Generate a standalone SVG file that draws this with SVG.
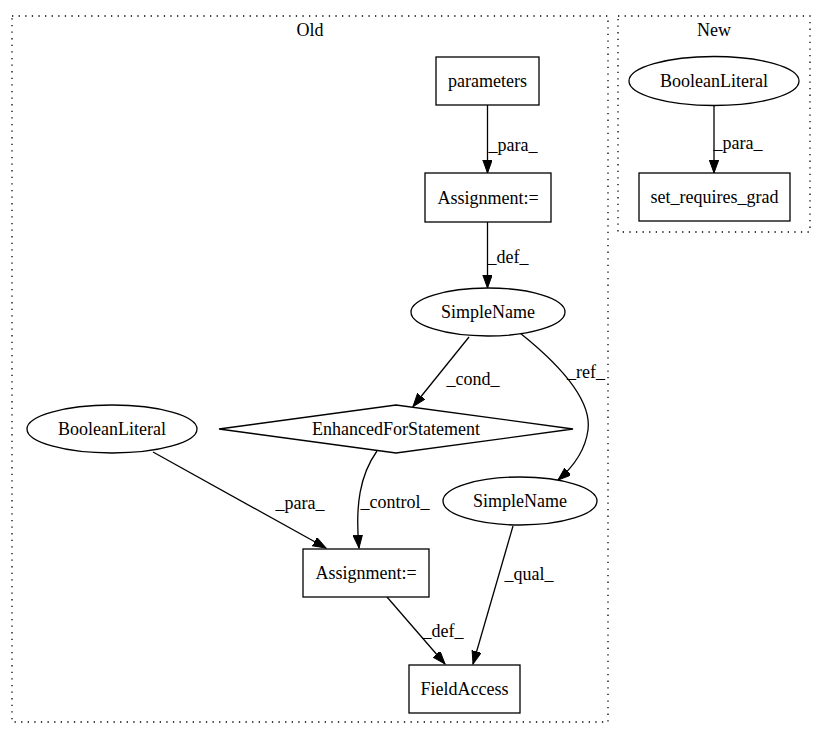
<svg xmlns="http://www.w3.org/2000/svg" width="827" height="740" viewBox="0 0 827 740">
<defs>
<style>
text{font-family:"Liberation Serif","Times New Roman",serif;font-size:18px;fill:#000;text-anchor:middle;dominant-baseline:central}
.cluster{fill:none;stroke:#000;stroke-width:1.3;stroke-dasharray:1.3,5.3}
.node{fill:#fff;stroke:#000;stroke-width:1.3}
.edge{fill:none;stroke:#000;stroke-width:1.3;marker-end:url(#arrow)}
</style>
<marker id="arrow" markerUnits="userSpaceOnUse" markerWidth="14" markerHeight="10" refX="13" refY="4.7" orient="auto">
<path d="M0,0 L13,4.7 L0,9.4 z" fill="#000" stroke="#000" stroke-width="1"/>
</marker>
</defs>
<rect width="827" height="740" fill="#fff"/>
<g id="cluster_old">
<rect class="cluster" x="12" y="16" width="596" height="706"/>
<text x="310" y="30">Old</text>
</g>
<g id="cluster_new">
<rect class="cluster" x="618" y="16" width="192" height="216"/>
<text x="714" y="30">New</text>
</g>
<g id="edges">
<path class="edge" d="M487.5,105 L487.5,173"/>
<text x="513" y="145">_para_</text>
<path class="edge" d="M487.5,222 L487.5,288"/>
<text x="508" y="257">_def_</text>
<path class="edge" d="M469,337 L413,406.5"/>
<text x="473" y="379">_cond_</text>
<path class="edge" d="M520,333 C560,365 592,400 588,430 C585,452 572,468 558,480"/>
<text x="586" y="372">_ref_</text>
<path class="edge" d="M153,452 L326,548"/>
<text x="300" y="503">_para_</text>
<path class="edge" d="M377,451 C360,475 355,505 359,548"/>
<text x="395" y="502">_control_</text>
<path class="edge" d="M387,597 L445,664"/>
<text x="443" y="631">_def_</text>
<path class="edge" d="M513,526 L473,664"/>
<text x="529" y="574">_qual_</text>
<path class="edge" d="M714,106 L714,173"/>
<text x="738" y="143">_para_</text>
</g>
<g id="parameters">
<rect class="node" x="436" y="57" width="103" height="48"/>
<text x="487.5" y="81">parameters</text>
</g>
<g id="assignment1">
<rect class="node" x="425" y="173" width="126" height="49"/>
<text x="488" y="197.5">Assignment:=</text>
</g>
<g id="simplename1">
<ellipse class="node" cx="488" cy="312" rx="77" ry="24"/>
<text x="488" y="312">SimpleName</text>
</g>
<g id="enhancedfor">
<polygon class="node" points="396,405 573,429 396,453 219,429"/>
<text x="396" y="429">EnhancedForStatement</text>
</g>
<g id="booleanliteral_old">
<ellipse class="node" cx="112" cy="429" rx="85" ry="24"/>
<text x="112" y="429">BooleanLiteral</text>
</g>
<g id="simplename2">
<ellipse class="node" cx="520" cy="501" rx="77" ry="24"/>
<text x="520" y="501">SimpleName</text>
</g>
<g id="assignment2">
<rect class="node" x="303" y="549" width="126" height="48"/>
<text x="366" y="573">Assignment:=</text>
</g>
<g id="fieldaccess">
<rect class="node" x="409" y="665" width="111" height="48"/>
<text x="464.5" y="689">FieldAccess</text>
</g>
<g id="booleanliteral_new">
<ellipse class="node" cx="714" cy="81" rx="85" ry="24.5"/>
<text x="714" y="81">BooleanLiteral</text>
</g>
<g id="set_requires_grad">
<rect class="node" x="639" y="173" width="151" height="48"/>
<text x="714.5" y="197">set_requires_grad</text>
</g>
</svg>
